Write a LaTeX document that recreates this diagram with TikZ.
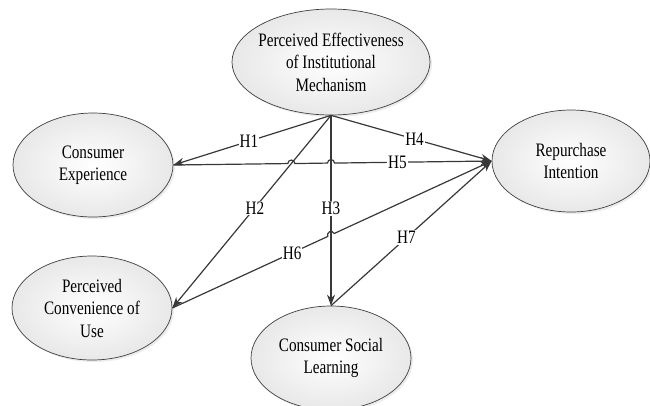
\documentclass[tikz,border=0pt]{standalone}
\usepackage{fontspec}
\setmainfont{Liberation Serif}[FakeStretch=0.8]
\usetikzlibrary{shapes.geometric,arrows.meta,shadows,intersections,calc}

\begin{document}
\begin{tikzpicture}[x=1pt,y=-1pt,
    construct/.style={ellipse,draw=black!75,line width=0.7pt,inner color=white,outer color=black!9,
      drop shadow={opacity=0.15,shadow xshift=2pt,shadow yshift=-2pt},
      align=center,inner xsep=-8pt,inner ysep=0pt,font=\fontsize{19}{22.5}\selectfont},
    hyp/.style={draw=black!78,line width=1.2pt},
    hyparrow/.style={hyp,-{Stealth[length=11pt,width=8pt]}},
    hlabel/.style={fill=white,inner sep=1pt,font=\fontsize{19}{22}\selectfont}]
  \useasboundingbox (0,0) rectangle (650,405);

                  \node[construct,minimum width=198pt,minimum height=106pt] (peim) at (331,62) {Perceived Effectiveness\\of Institutional\\Mechanism};
                  \node[construct,minimum width=160pt,minimum height=104pt] (ce) at (93,165) {Consumer\\Experience};
                  \node[construct,minimum width=158pt,minimum height=102pt] (ri) at (571,161) {Repurchase\\Intention};
                  \node[construct,minimum width=160pt,minimum height=104pt] (pcu) at (92,308) {Perceived\\Convenience of\\Use};
                  \node[construct,minimum width=160pt,minimum height=104pt] (csl) at (331,358) {Consumer Social\\Learning};

                  \path[name path=p2] (peim.south) -- (pcu.east);
                  \path[name path=p3] (peim.south) -- (csl.north);
                  \path[name path=p5] (ce.east) -- (ri.west);
                  \path[name path=p6] (pcu.east) -- (ri.west);
                  \path[name intersections={of=p2 and p5,by=j25}];
                  \path[name intersections={of=p3 and p5,by=j35}];
                  \path[name intersections={of=p3 and p6,by=j36}];

                  \draw[hyparrow] (peim.south) -- node[hlabel,pos=0.52] {H1} (ce.east);
                  \draw[hyparrow] (peim.south) -- node[hlabel,pos=0.48] {H2} (pcu.east);
                  \draw[hyparrow] (peim.south) -- node[hlabel,pos=0.49] {H3} (csl.north);
                  \draw[hyparrow] (peim.south) -- node[hlabel,pos=0.52] {H4} (ri.west);
                  \draw[hyparrow] (ce.east) -- ($(j25)!3.5pt!(ce.east)$) arc[start angle=180,end angle=0,radius=3.5pt]
                    -- ($(j35)!3.5pt!(ce.east)$) arc[start angle=180,end angle=0,radius=3.5pt]
                    -- node[hlabel,pos=0.4] {H5} (ri.west);
                  \draw[hyparrow] let \p1=($(ri.west)-(pcu.east)$), \n1={atan2(\y1,\x1)} in
                    (pcu.east) -- node[hlabel,pos=0.77] {H6} ($(j36)!3.5pt!(pcu.east)$)
                    arc[start angle=180+\n1,end angle=\n1,radius=3.5pt] -- (ri.west);
                  \draw[hyparrow] (csl.north) -- node[hlabel,pos=0.47] {H7} (ri.west);
\end{tikzpicture}
\end{document}
